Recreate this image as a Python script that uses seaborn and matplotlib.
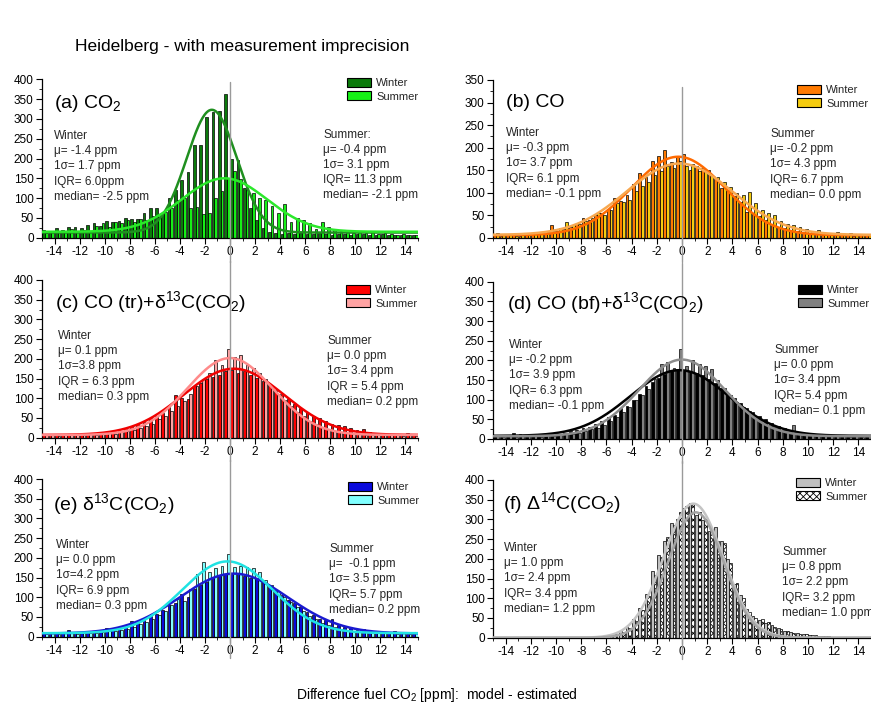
import numpy as np
import pandas as pd
import matplotlib
matplotlib.use('Agg')
import matplotlib.pyplot as plt
import seaborn as sns
from matplotlib.patches import Patch
from matplotlib.ticker import MultipleLocator, FixedLocator

sns.set_theme(style='ticks')
plt.rcParams['font.family'] = ['Liberation Sans', 'DejaVu Sans']
plt.rcParams['mathtext.fontset'] = 'custom'
plt.rcParams['mathtext.rm'] = 'Liberation Sans'
plt.rcParams['mathtext.it'] = 'Liberation Sans:italic'
plt.rcParams['mathtext.bf'] = 'Liberation Sans:bold'
plt.rcParams['hatch.linewidth'] = 0.6
plt.rcParams['axes.unicode_minus'] = False

# ---------------- data ----------------
bin_edges = np.linspace(-15, 15, 61)
bin_centers = (bin_edges[:-1] + bin_edges[1:]) / 2
seasons = ['Winter', 'Summer']
x_ticks = list(range(-14, 15, 2))

a_winter = [20, 18, 24, 20, 28, 26, 24, 32, 38, 30,
            42, 40, 42, 50, 48, 48, 62, 75, 75, 60,
            100, 120, 145, 165, 233, 235, 305, 318, 320, 362,
            200, 195, 125, 75, 45, 25, 14, 12, 10, 12,
            9, 11, 10, 9, 12, 10, 8, 10, 9, 8,
            10, 9, 8, 7, 9, 8, 7, 6, 8, 6]
a_summer = [12, 15, 18, 14, 22, 16, 20, 15, 30, 38,
            28, 40, 38, 44, 40, 48, 45, 55, 60, 65,
            75, 95, 100, 75, 78, 60, 62, 100, 118, 150,
            168, 148, 120, 112, 100, 95, 80, 62, 85, 40,
            50, 45, 38, 22, 40, 28, 20, 18, 15, 12,
            15, 12, 14, 10, 12, 10, 8, 9, 7, 8]

b_winter = [8, 5, 6, 7, 5, 12, 10, 12, 15, 28,
            16, 20, 25, 30, 45, 40, 52, 55, 65, 88,
            82, 95, 120, 145, 135, 170, 182, 195, 168, 180,
            185, 150, 160, 155, 150, 130, 110, 105, 92, 80,
            58, 55, 48, 40, 30, 25, 22, 18, 15, 12,
            8, 10, 7, 10, 8, 6, 6, 5, 7, 6]
b_summer = [10, 6, 8, 5, 9, 7, 12, 10, 14, 15,
            22, 35, 28, 32, 38, 45, 55, 50, 62, 78,
            80, 85, 105, 115, 125, 140, 148, 160, 155, 170,
            160, 165, 148, 150, 140, 135, 125, 112, 100, 95,
            102, 78, 62, 55, 50, 38, 32, 28, 24, 20,
            15, 18, 12, 10, 14, 9, 10, 7, 8, 6]

c_winter = [8, 6, 9, 7, 10, 8, 9, 11, 12, 10,
            15, 16, 22, 24, 30, 35, 40, 50, 55, 62,
            78, 108, 100, 98, 130, 140, 150, 155, 160, 168,
            172, 165, 170, 160, 152, 145, 135, 120, 110, 98,
            86, 75, 65, 55, 50, 42, 36, 32, 30, 25,
            20, 22, 14, 12, 10, 9, 8, 7, 12, 7]
c_summer = [6, 8, 5, 7, 9, 6, 8, 10, 7, 9,
            12, 10, 14, 18, 20, 25, 30, 35, 48, 55,
            68, 80, 92, 110, 130, 150, 165, 198, 185, 225,
            205, 210, 185, 178, 165, 150, 128, 110, 95, 80,
            65, 55, 42, 35, 28, 22, 18, 15, 12, 10,
            9, 8, 7, 8, 7, 6, 7, 5, 6, 5]

d_winter = [8, 10, 9, 14, 12, 10, 12, 11, 12, 14,
            13, 16, 20, 22, 28, 30, 38, 45, 55, 60,
            78, 85, 100, 115, 135, 145, 155, 165, 172, 175,
            176, 172, 168, 162, 152, 142, 130, 118, 104, 92,
            80, 68, 58, 50, 40, 33, 28, 22, 18, 16,
            14, 12, 11, 10, 9, 9, 8, 8, 9, 8]
d_summer = [7, 6, 8, 5, 9, 7, 8, 6, 9, 8,
            10, 12, 12, 15, 20, 25, 28, 36, 45, 55,
            68, 82, 100, 112, 128, 152, 190, 195, 180, 230,
            185, 200, 190, 185, 178, 150, 130, 112, 95, 82,
            70, 55, 45, 36, 30, 22, 20, 35, 14, 12,
            10, 9, 8, 9, 7, 8, 6, 7, 6, 7]

e_winter = [10, 8, 12, 9, 18, 10, 12, 14, 12, 15,
            22, 18, 25, 28, 40, 35, 45, 52, 58, 68,
            80, 85, 108, 100, 120, 130, 140, 148, 155, 158,
            160, 162, 155, 150, 150, 138, 125, 118, 105, 92,
            85, 75, 62, 55, 45, 42, 45, 30, 25, 22,
            18, 20, 14, 12, 10, 12, 15, 9, 8, 7]
e_summer = [8, 10, 7, 9, 10, 8, 11, 9, 10, 12,
            15, 14, 18, 20, 25, 32, 38, 45, 55, 65,
            80, 95, 90, 120, 160, 190, 165, 175, 180, 210,
            178, 180, 178, 175, 165, 145, 130, 115, 100, 88,
            75, 65, 52, 45, 35, 30, 24, 20, 18, 15,
            12, 11, 10, 9, 10, 9, 8, 9, 8, 9]

f_winter = [0, 0, 0, 0, 0, 0, 0, 0, 0, 0,
            0, 0, 0, 0, 0, 0, 1, 2, 5, 10,
            17, 28, 48, 75, 110, 168, 210, 245, 290, 300,
            330, 342, 310, 298, 270, 282, 245, 200, 135, 108,
            72, 55, 45, 38, 32, 25, 18, 14, 12, 10,
            8, 6, 5, 4, 3, 2, 0, 0, 0, 0]
f_summer = [0, 0, 0, 0, 0, 0, 0, 0, 0, 0,
            0, 0, 0, 0, 0, 0, 0, 1, 4, 8,
            15, 25, 42, 70, 105, 160, 205, 255, 285, 320,
            335, 340, 320, 300, 275, 245, 240, 190, 140, 100,
            65, 50, 48, 40, 28, 22, 16, 12, 10, 9,
            7, 5, 5, 3, 2, 1, 0, 0, 0, 0]

# Gaussian fit parameters (amplitude, centre, sigma, offset)
a_fit_w, a_fit_s = (310, -1.45, 2.0, 13), (135, -0.45, 3.4, 15)
b_fit_w, b_fit_s = (174, -0.3, 3.7, 6), (158, -0.2, 4.2, 7)
c_fit_w, c_fit_s = (168, 0.3, 4.0, 7), (195, 0.0, 3.4, 7)
d_fit_w, d_fit_s = (167, -0.2, 3.9, 8), (195, 0.0, 3.4, 7)
e_fit_w, e_fit_s = (152, 0.3, 4.3, 8), (182, -0.2, 3.6, 9)
f_fit_w, f_fit_s = (340, 0.9, 2.35, 0), (318, 1.1, 2.2, 0)

a_title = '(a) CO$_2$'
b_title = '(b) CO'
c_title = '(c) CO (tr)+δ$^{13}$C(CO$_2$)'
d_title = '(d) CO (bf)+δ$^{13}$C(CO$_2$)'
e_title = '(e) δ$^{13}$C(CO$_2$)'
f_title = '(f) Δ$^{14}$C(CO$_2$)'

a_stats = ('Winter\nμ= -1.4 ppm\n1σ= 1.7 ppm\nIQR= 6.0ppm\nmedian= -2.5 ppm',
           'Summer:\nμ= -0.4 ppm\n1σ= 3.1 ppm\nIQR= 11.3 ppm\nmedian= -2.1 ppm')
b_stats = ('Winter\nμ= -0.3 ppm\n1σ= 3.7 ppm\nIQR= 6.1 ppm\nmedian= -0.1 ppm',
           'Summer\nμ= -0.2 ppm\n1σ= 4.3 ppm\nIQR= 6.7 ppm\nmedian= 0.0 ppm')
c_stats = ('Winter\nμ= 0.1 ppm\n1σ=3.8 ppm\nIQR = 6.3 ppm\nmedian= 0.3 ppm',
           'Summer\nμ= 0.0 ppm\n1σ= 3.4 ppm\nIQR = 5.4 ppm\nmedian= 0.2 ppm')
d_stats = ('Winter\nμ= -0.2 ppm\n1σ= 3.9 ppm\nIQR= 6.3 ppm\nmedian= -0.1 ppm',
           'Summer\nμ= 0.0 ppm\n1σ= 3.4 ppm\nIQR= 5.4 ppm\nmedian= 0.1 ppm')
e_stats = ('Winter\nμ= 0.0 ppm\n1σ=4.2 ppm\nIQR= 6.9 ppm\nmedian= 0.3 ppm',
           'Summer\nμ=  -0.1 ppm\n1σ= 3.5 ppm\nIQR= 5.7 ppm\nmedian= 0.2 ppm')
f_stats = ('Winter\nμ= 1.0 ppm\n1σ= 2.4 ppm\nIQR= 3.4 ppm\nmedian= 1.2 ppm',
           'Summer\nμ= 0.8 ppm\n1σ= 2.2 ppm\nIQR= 3.2 ppm\nmedian= 1.0 ppm')

main_title = 'Heidelberg - with measurement imprecision'
x_label = 'Difference fuel CO$_2$ [ppm]:  model - estimated'

# ---------------- layout / style ----------------
W, H = 871, 713
fig = plt.figure(figsize=(W / 100, H / 100), dpi=100)


def fx(x):
    return x / W


def fy(y):
    return 1 - y / H


panels = [
    dict(win=a_winter, sum=a_summer, fw=a_fit_w, fs=a_fit_s, title=a_title, stats=a_stats,
         rect=(42, 79.3, 418, 237.7), ymax=400, cw='#0b7a0b', cs='#16f016',
         lcw='#1f8f1f', lcs='#2be82b', vl=(-0.155, 0.985),
         tpos=(54, 108.5), wpos=(54, 131), spos=(323, 129.5), lpos=(347, 78)),
    dict(win=b_winter, sum=b_summer, fw=b_fit_w, fs=b_fit_s, title=b_title, stats=b_stats,
         rect=(493, 80, 871, 238), ymax=350, cw='#ff7a00', cs='#f5cc10',
         lcw='#ff6a00', lcs='#f7a850', vl=(-0.15, 0.955),
         tpos=(506, 107), wpos=(506, 128), spos=(770, 129), lpos=(797, 85)),
    dict(win=c_winter, sum=c_summer, fw=c_fit_w, fs=c_fit_s, title=c_title, stats=c_stats,
         rect=(42, 280, 418, 437.7), ymax=400, cw='#ff0000', cs='#ffa3a3',
         lcw='#f00000', lcs='#ff8a8a', vl=(-0.15, 1.12),
         tpos=(55, 308.5), wpos=(58, 331), spos=(327, 336), lpos=(346, 285)),
    dict(win=d_winter, sum=d_summer, fw=d_fit_w, fs=d_fit_s, title=d_title, stats=d_stats,
         rect=(493, 281.7, 871, 439), ymax=400, cw='#000000', cs='#808080',
         lcw='#000000', lcs='#8c8c8c', vl=(-0.15, 1.12),
         tpos=(507, 309.5), wpos=(509, 340), spos=(774, 345), lpos=(798, 285)),
    dict(win=e_winter, sum=e_summer, fw=e_fit_w, fs=e_fit_s, title=e_title, stats=e_stats,
         rect=(42, 479, 418, 636.7), ymax=400, cw='#0a0adc', cs='#80ffff',
         lcw='#1a1ad0', lcs='#1fe3e3', vl=(-0.135, 1.12),
         tpos=(53, 510), wpos=(56, 540), spos=(329, 544), lpos=(348, 482)),
    dict(win=f_winter, sum=f_summer, fw=f_fit_w, fs=f_fit_s, title=f_title, stats=f_stats,
         rect=(493, 480, 871, 637.7), ymax=400, cw='#c0c0c0', cs='#ffffff',
         lcw='#c4c4c4', lcs='#a4a4a4', vl=(-0.135, 1.12), hatch='xxxxx',
         tpos=(503, 509.5), wpos=(504, 543), spos=(782, 547), lpos=(796, 478)),
]

xs = np.linspace(-15, 15, 601)
txt_col = '#262626'

for p in panels:
    l, t, r, b = p['rect']
    ax = fig.add_axes([fx(l), fy(b), (r - l) / W, (b - t) / H])
    df = pd.DataFrame({
        'diff': np.concatenate([bin_centers, bin_centers]),
        'count': np.concatenate([p['win'], p['sum']]).astype(float),
        'season': ['Winter'] * len(bin_centers) + ['Summer'] * len(bin_centers),
    })
    sns.histplot(data=df, x='diff', weights='count', hue='season', hue_order=seasons,
                 binwidth=0.5, binrange=(-15, 15), multiple='dodge', shrink=0.88,
                 palette={'Winter': p['cw'], 'Summer': p['cs']},
                 edgecolor='black', linewidth=0.5, alpha=1, legend=False, ax=ax)
    hatch = p.get('hatch')
    if hatch:
        for patch in ax.patches:
            fc = patch.get_facecolor()
            if fc[0] > 0.99 and fc[1] > 0.99 and fc[2] > 0.99:
                patch.set_hatch(hatch)

    for (A, xc, s, y0), col in [(p['fw'], p['lcw']), (p['fs'], p['lcs'])]:
        ys = y0 + A * np.exp(-(xs - xc) ** 2 / (2 * s * s))
        sns.lineplot(x=xs, y=ys, ax=ax, color=col, lw=1.8, estimator=None, zorder=4)

    ax.axvline(0, ymin=p['vl'][0], ymax=p['vl'][1], color='#9a9a9a', lw=1.0,
               clip_on=False, zorder=5)

    ax.set_xlim(-15, 15)
    ax.set_ylim(0, p['ymax'])
    ax.xaxis.set_major_locator(FixedLocator(x_ticks))
    ax.xaxis.set_minor_locator(MultipleLocator(1))
    ax.yaxis.set_major_locator(MultipleLocator(50))
    ax.yaxis.set_minor_locator(MultipleLocator(25))
    ax.set_xlabel('')
    ax.set_ylabel('')
    sns.despine(ax=ax)
    for sp in ('left', 'bottom'):
        ax.spines[sp].set_linewidth(0.9)
        ax.spines[sp].set_color('black')
    ax.tick_params(which='major', direction='out', length=4, width=0.8,
                   labelsize=8.5, pad=2, colors='black')
    ax.tick_params(which='minor', direction='out', length=2.5, width=0.7)
    ax.patch.set_alpha(0)

    handles = [Patch(facecolor=p['cw'], edgecolor='black', lw=0.8, label='Winter'),
               Patch(facecolor=p['cs'], edgecolor='black', lw=0.8, label='Summer',
                     hatch=hatch if hatch else None)]
    ax.legend(handles=handles, loc='upper left',
              bbox_to_anchor=(fx(p['lpos'][0]), fy(p['lpos'][1])),
              bbox_transform=fig.transFigure, frameon=False, fontsize=8,
              handlelength=2.2, handleheight=0.9, labelspacing=0.25,
              handletextpad=0.45, borderpad=0, borderaxespad=0)

    fig.text(fx(p['tpos'][0]), fy(p['tpos'][1]), p['title'], fontsize=14,
             ha='left', va='baseline', color='black')
    fig.text(fx(p['wpos'][0]), fy(p['wpos'][1] - 1), p['stats'][0], fontsize=8.5,
             ha='left', va='top', linespacing=1.36, color=txt_col)
    fig.text(fx(p['spos'][0]), fy(p['spos'][1] - 1), p['stats'][1], fontsize=8.5,
             ha='left', va='top', linespacing=1.36, color=txt_col)

fig.text(fx(75), fy(47), main_title, fontsize=12.5, ha='left', va='center', color='black')
fig.text(fx(437), fy(695), x_label, fontsize=10, ha='center', va='center', color='black')

fig.savefig('out.png', dpi=100)
